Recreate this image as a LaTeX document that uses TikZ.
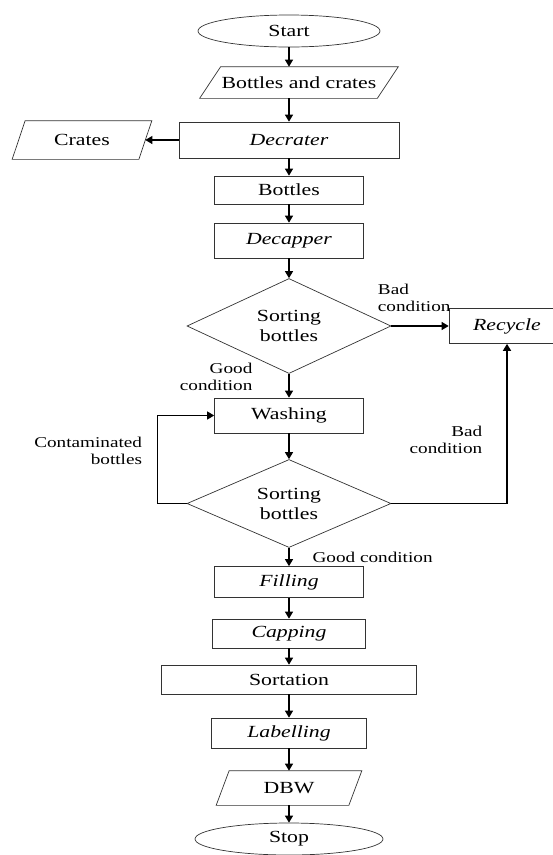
\documentclass[tikz,border=0pt]{standalone}
\usepackage{fontspec}
\setmainfont[FakeStretch=1.28]{Liberation Serif}
\usetikzlibrary{arrows.meta,shapes,positioning,calc}

\begin{document}
\begin{tikzpicture}[x=1pt,y=1pt,-{Triangle[length=7pt,width=8pt]},line width=1.2pt,
		box/.style={draw=black!80,line width=0.7pt,rectangle,inner sep=0pt,align=center,font=\rmfamily\fontsize{17}{20}\selectfont},
		term/.style={box,ellipse},
		io/.style={box,draw=none},
		choice/.style={box,diamond,aspect=2},
		slant/.style={draw=black!80,line width=0.7pt,-},
		lbl/.style={inner sep=0pt,align=left,font=\rmfamily\fontsize{15}{17}\selectfont}]
		\useasboundingbox (0,0) rectangle (553,-855);
		\node[term,minimum width=182pt,minimum height=32pt] (start) at (289,-31) {Start};
		\node[io,minimum width=177pt,minimum height=31pt,xshift=10pt] (bnc) [below of=start,node distance=51.5pt] {Bottles and crates};
		\node[box,minimum width=220pt,minimum height=36pt] (decrater) at (289,-140) {\textit{Decrater}};
		\node[io,minimum width=126pt,minimum height=38pt] (crates) [left of=decrater,node distance=207pt] {Crates};
		\node[box,minimum width=149pt,minimum height=28pt] (bottles) [below of=decrater,node distance=50pt] {Bottles};
		\node[box,minimum width=149pt,minimum height=35pt] (decapper) [below of=bottles,node distance=50.5pt] {\textit{Decapper}};
		\node[choice,minimum width=204pt,minimum height=95pt] (sortA) [below of=decapper,node distance=85.5pt] {Sorting\\bottles};
		\node[box,minimum width=116pt,minimum height=35pt] (recycle) [right of=sortA,node distance=218pt] {\textit{Recycle}};
		\node[box,minimum width=149pt,minimum height=35pt] (washing) [below of=sortA,node distance=89.5pt] {Washing};
		\node[choice,minimum width=204pt,minimum height=88pt] (sortB) [below of=washing,node distance=88pt] {Sorting\\bottles};
		\node[box,minimum width=149pt,minimum height=31pt] (filling) [below of=sortB,node distance=78.5pt] {\textit{Filling}};
		\node[box,minimum width=153pt,minimum height=29pt] (capping) [below of=filling,node distance=51.5pt] {\textit{Capping}};
		\node[box,minimum width=255pt,minimum height=29pt] (sortation) [below of=capping,node distance=46pt] {Sortation};
		\node[box,minimum width=155pt,minimum height=30pt] (labelling) [below of=sortation,node distance=53.5pt] {\textit{Labelling}};
		\node[io,minimum width=132pt,minimum height=34pt] (dbw) [below of=labelling,node distance=55pt] {DBW};
		\node[term,minimum width=188pt,minimum height=32pt] (stop) [below of=dbw,node distance=51pt] {Stop};
		% parallelogram outlines
		\draw[slant] ([xshift=10.5pt]bnc.north west) -- ([xshift=10.5pt]bnc.north east) -- ([xshift=-10.5pt]bnc.south east) -- ([xshift=-10.5pt]bnc.south west) -- cycle;
		\draw[slant] ([xshift=6.5pt]crates.north west) -- ([xshift=6.5pt]crates.north east) -- ([xshift=-6.5pt]crates.south east) -- ([xshift=-6.5pt]crates.south west) -- cycle;
		\draw[slant] ([xshift=6.5pt]dbw.north west) -- ([xshift=6.5pt]dbw.north east) -- ([xshift=-6.5pt]dbw.south east) -- ([xshift=-6.5pt]dbw.south west) -- cycle;
		\path
			(start.south) edge (start.south|-bnc.north)
			(start.south|-bnc.south) edge (decrater)
			(decrater) edge (crates)
			(decrater) edge (bottles)
			(bottles) edge (decapper)
			(decapper) edge (sortA)
			(sortA) edge node[lbl,at start,anchor=south west,xshift=-14pt,yshift=14pt] {Bad\\condition} (recycle)
			(sortA) edge node[lbl,at start,anchor=north east,align=right,xshift=-36pt,yshift=11pt] {Good\\condition} (washing)
			(washing) edge (sortB)
			(sortB) edge node[lbl,midway,right=23pt] {Good condition} (filling)
			(filling) edge (capping)
			(capping) edge (sortation)
			(sortation) edge (labelling)
			(labelling) edge (dbw)
			(dbw) edge (stop);
		\draw (sortB.west) -- ++(-29,0) |- node[lbl,pos=0.3,left=15pt,align=right] {Contaminated\\bottles} (washing.west);
		\draw[line width=1.6pt] (sortB.east) -| node[lbl,pos=0.7,left=24pt,align=right] {Bad\\condition} (recycle.south);
	\end{tikzpicture}
\end{document}
